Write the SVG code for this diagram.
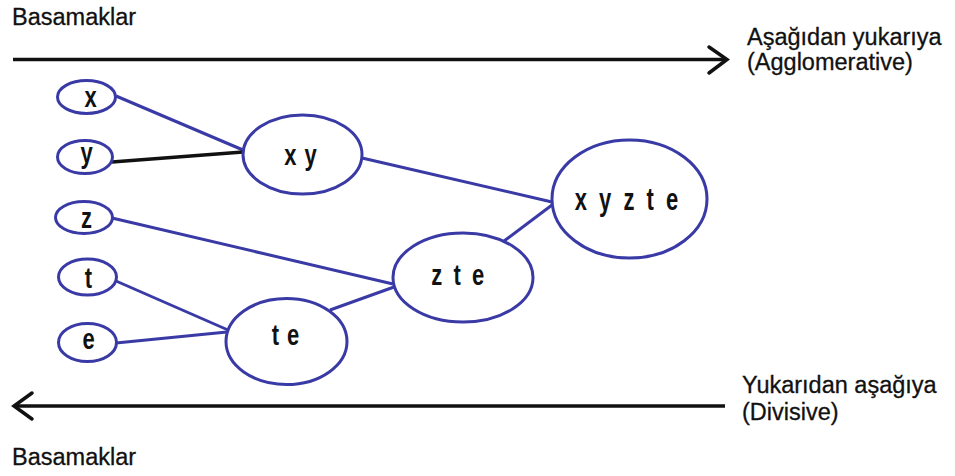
<svg xmlns="http://www.w3.org/2000/svg" width="955" height="476" viewBox="0 0 955 476">
  <style>
    .caption { font-family: "Liberation Sans", Arial, sans-serif; font-size: 23.5px; fill: #111; stroke: #111; stroke-width: 0.3; }
    .node ellipse { fill: #fff; stroke: #3a3aa6; stroke-width: 3; }
    .node text { font-family: "Liberation Sans", Arial, sans-serif; font-weight: bold; font-size: 22px; fill: #111; text-anchor: middle; letter-spacing: 1px; }
    .edge { stroke: #3a3aa6; stroke-width: 3; fill: none; }
    .edge-dark { stroke: #111; stroke-width: 3.5; fill: none; }
    .axis { stroke: #111; stroke-width: 3.5; fill: none; }
    .chev { stroke: #111; stroke-width: 3.5; fill: none; stroke-linecap: round; stroke-linejoin: miter; }
  </style>

  <rect width="955" height="476" fill="#fff"/>

  <!-- direction axes -->
  <g id="axes">
    <line class="axis" x1="13" y1="59.5" x2="726" y2="59.5"/>
    <polyline class="chev" points="709,47 727,59.5 709,73"/>
    <line class="axis" x1="16" y1="406" x2="725" y2="406"/>
    <polyline class="chev" points="32,393 14,406 32,419"/>
  </g>

  <!-- captions -->
  <g id="captions">
    <text class="caption" x="12" y="25">Basamaklar</text>
    <text class="caption" x="747" y="45">Aşağıdan yukarıya</text>
    <text class="caption" x="747" y="70">(Agglomerative)</text>
    <text class="caption" x="742" y="393">Yukarıdan aşağıya</text>
    <text class="caption" x="742" y="420">(Divisive)</text>
    <text class="caption" x="12" y="465">Basamaklar</text>
  </g>

  <!-- connectors -->
  <g id="connectors">
    <line class="edge" x1="116" y1="96" x2="243" y2="150"/>
    <line class="edge-dark" x1="112" y1="162" x2="243" y2="152"/>
    <line class="edge" x1="362" y1="158" x2="552" y2="202"/>
    <line class="edge" x1="112" y1="218" x2="393" y2="284"/>
    <line class="edge" x1="504" y1="241" x2="552" y2="205"/>
    <line class="edge" x1="330" y1="310" x2="394" y2="287"/>
    <line class="edge" x1="116" y1="281" x2="228" y2="330"/>
    <line class="edge" x1="116" y1="343" x2="227" y2="332"/>
  </g>

  <!-- leaf nodes -->
  <g id="node-x" class="node">
    <ellipse cx="86.5" cy="97" rx="29" ry="16.5"/>
    <text transform="translate(91 107) scale(1 1.3)">x</text>
  </g>
  <g id="node-y" class="node">
    <ellipse cx="85" cy="157" rx="27.5" ry="16.5"/>
    <text transform="translate(87 163) scale(1 1.3)">y</text>
  </g>
  <g id="node-z" class="node">
    <ellipse cx="84" cy="217.5" rx="28.5" ry="16"/>
    <text transform="translate(87 228) scale(1 1.3)">z</text>
  </g>
  <g id="node-t" class="node">
    <ellipse cx="87.5" cy="277" rx="29" ry="18"/>
    <text transform="translate(89 288) scale(1 1.3)">t</text>
  </g>
  <g id="node-e" class="node">
    <ellipse cx="87.5" cy="342.5" rx="29" ry="19"/>
    <text transform="translate(89 349) scale(1 1.3)">e</text>
  </g>

  <!-- merged clusters -->
  <g id="node-xy" class="node">
    <ellipse cx="302.5" cy="154.5" rx="59.5" ry="39.5"/>
    <text transform="translate(301 165) scale(1 1.35)">x y</text>
  </g>
  <g id="node-te" class="node">
    <ellipse cx="286.5" cy="341.5" rx="60.5" ry="43"/>
    <text transform="translate(286 345) scale(1 1.35)">t e</text>
  </g>
  <g id="node-zte" class="node">
    <ellipse cx="463" cy="277.5" rx="70" ry="44.5"/>
    <text transform="translate(459 285) scale(1 1.35)" style="letter-spacing:2.5px">z t e</text>
  </g>
  <g id="node-xyzte" class="node">
    <ellipse cx="629.5" cy="199" rx="77.5" ry="59"/>
    <text transform="translate(628 210) scale(1 1.4)" style="letter-spacing:3px">x y z t e</text>
  </g>
</svg>
